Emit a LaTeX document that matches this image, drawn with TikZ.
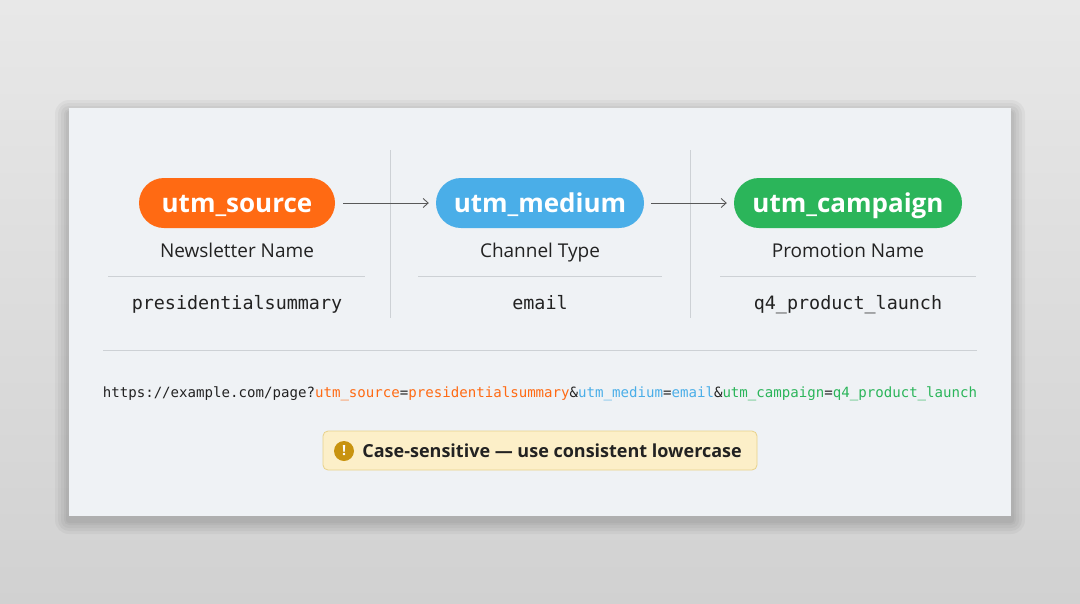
\documentclass[tikz,border=0pt]{standalone}
\usepackage{fontspec}
\setmainfont{Open Sans}
\setmonofont{DejaVu Sans Mono}
\usetikzlibrary{positioning,arrows.meta}

\definecolor{srcorange}{HTML}{FF6A13}
\definecolor{medblue}{HTML}{4AAEE8}
\definecolor{campgreen}{HTML}{2BB55A}
\definecolor{cardfill}{HTML}{EFF2F5}
\definecolor{rulegray}{HTML}{CDD1D5}
\definecolor{warnfill}{HTML}{FCEFC8}
\definecolor{warnline}{HTML}{E8D28A}
\definecolor{warnicon}{HTML}{C8930F}
\definecolor{inkdark}{HTML}{222222}

\tikzset{
  pill/.style={rounded corners=25pt,minimum width=196pt,minimum height=50pt,
    text=white,font=\fontsize{26}{30}\selectfont\bfseries,inner sep=0pt,
    text height=20pt,text depth=1pt},
  lbl/.style={font=\fontsize{19}{22}\selectfont,text=inkdark,text height=14pt,text depth=2pt},
  val/.style={font=\ttfamily\fontsize{18.4}{22}\selectfont,text=inkdark,text height=12pt,text depth=2pt},
  divider/.style={draw=rulegray,line width=0.8pt},
  flow/.style={draw=black!65,-{Straight Barb[length=5pt,width=9pt]},line width=0.9pt}
}

\begin{document}
\begin{tikzpicture}[x=1pt,y=-1pt]
\useasboundingbox (0,0) rectangle (1080,603);
\shade[top color=black!9,bottom color=black!18] (0,0) rectangle (1080,603);

% card with soft shadow
\foreach \s in {14,11,8,5,3}
  \fill[black,opacity=0.035,rounded corners=\s pt] (69-\s,108-\s+6) rectangle (1011+\s,516+\s+4);
\fill[cardfill] (69,108) rectangle (1011,516);

% dividers
\path[divider] (390,150) -- (390,318);
\path[divider] (690,150) -- (690,318);
\path[divider] (108,276) -- (365,276);
\path[divider] (418,276) -- (662,276);
\path[divider] (720,276) -- (976,276);
\path[divider] (103,350) -- (977,350);

%source
\node[pill,fill=srcorange] (src) at (237,203) {utm\_source};
\node[lbl] (srclbl) at (237,251) {Newsletter Name};
\node[val] (srcval) at (237,304) {presidentialsummary};

%medium
\node[pill,fill=medblue,minimum width=208pt] (med) at (540,203) {utm\_medium};
\node[lbl] (medlbl) at (540,251) {Channel Type};
\node[val] (medval) at (540,304) {email};

%campaign
\node[pill,fill=campgreen,minimum width=228pt] (camp) at (848,203) {utm\_campaign};
\node[lbl] (camplbl) at (848,251) {Promotion Name};
\node[val] (campval) at (848,304) {q4\_product\_launch};

\path (src.east) ++(8,0) coordinate (a1) (med.west) ++(-7,0) coordinate (a2);
\path[flow] (a1) -- (a2);
\path (med.east) ++(7,0) coordinate (b1) (camp.west) ++(-7,0) coordinate (b2);
\path[flow] (b1) -- (b2);

% url
\node[font=\ttfamily\fontsize{14.1}{17}\selectfont,text=inkdark,inner sep=0pt,text height=11pt,text depth=2pt] (url) at (540,393)
  {https://example.com/page?\textcolor{srcorange}{utm\_source}=\textcolor{srcorange}{presidentialsummary}\&\textcolor{medblue}{utm\_medium}=\textcolor{medblue}{email}\&\textcolor{campgreen}{utm\_campaign}=\textcolor{campgreen}{q4\_product\_launch}};

% warning
\draw[warnline,fill=warnfill,rounded corners=5pt,line width=0.8pt] (323,431) rectangle (757,470);
\node[circle,fill=warnicon,minimum size=20pt,inner sep=0pt,text=white,font=\fontsize{14}{14}\selectfont\bfseries] (icon) at (344,451) {!};
\node[right=8pt of icon,font=\fontsize{18}{22}\selectfont\bfseries,text=inkdark,inner sep=0pt,text height=14pt,text depth=2pt] (warn) {Case-sensitive — use consistent lowercase};
\end{tikzpicture}
\end{document}
